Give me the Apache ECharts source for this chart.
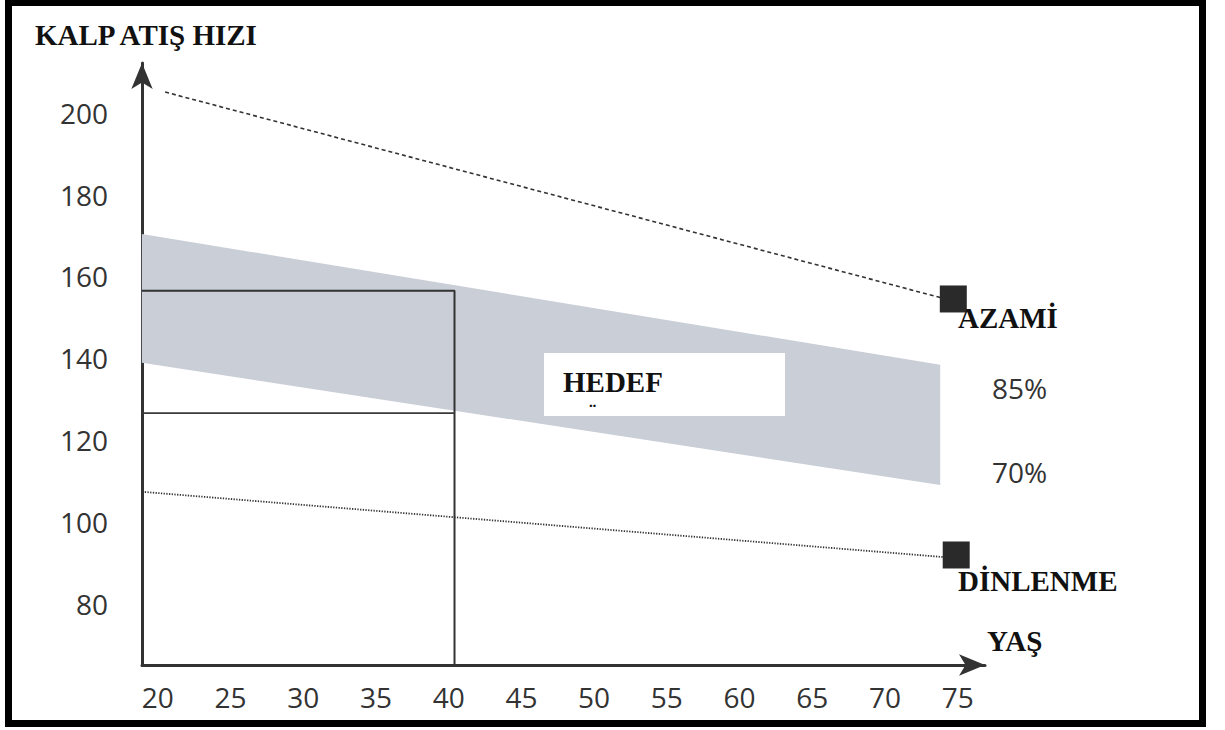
<!DOCTYPE html>
<html>
<head>
<meta charset="utf-8">
<title>Kalp Atış Hızı</title>
<script src="https://cdn.jsdelivr.net/npm/echarts@6/dist/echarts.min.js"></script>
<style>
  html, body { margin: 0; padding: 0; background: #ffffff; }
  #chart { width: 1225px; height: 730px; }
</style>
</head>
<body>
<div id="chart"></div>
<script>
// ---- Data ----
const ageTicks = [20, 25, 30, 35, 40, 45, 50, 55, 60, 65, 70, 75];
const hrTicks = [80, 100, 120, 140, 160, 180, 200];

// Maximum heart rate line (AZAMİ) [age, bpm]
const maxLine = [[20.5, 205.1], [74.7, 154.0]];
// Resting heart rate line (DİNLENME) [age, bpm]
const restLine = [[19.1, 107.3], [74.0, 91.4]];
// Target zone band: 85% upper edge and 70% lower edge
const bandTop = [[18.9, 170.4], [73.8, 138.4]];
const bandBottom = [[18.9, 138.9], [73.8, 109.0]];
// End markers
const markerMax = [74.7, 154.5];
const markerRest = [74.9, 91.9];
// Example at age 40
const exampleAge = 40.4;
const exampleHigh = 156.5;
const exampleLow = 126.6;

const labelsRight = { max: 'AZAMİ', p85: '85%', p70: '70%', rest: 'DİNLENME' };
const titleY = 'KALP ATIŞ HIZI';
const titleX = 'YAŞ';
const zoneText = 'HEDEF';

// ---- Chart ----
const SERIF = "'Liberation Serif', 'DejaVu Serif', serif";
const SANS = "'Open Sans', 'Noto Sans', sans-serif";
const X_MIN = 18.91, X_MAX = 76.88, Y_MIN = 65, Y_MAX = 212.2;

const bandPolygon = bandTop.concat(bandBottom.slice().reverse());

const chart = echarts.init(document.getElementById('chart'), null, { renderer: 'svg' });

const option = {
  animation: false,
  backgroundColor: '#ffffff',
  grid: { left: 142, right: 240, top: 63, bottom: 65 },
  xAxis: {
    type: 'value', min: X_MIN, max: X_MAX,
    axisLine: { show: true, onZero: false, symbol: ['none', 'arrow'], symbolSize: [16, 26],
      lineStyle: { color: '#333333', width: 3 } },
    axisTick: { show: false },
    splitLine: { show: false },
    axisLabel: {
      customValues: ageTicks,
      formatter: v => String(v),
      fontFamily: SANS, fontSize: 28, color: '#333333',
      margin: 32, verticalAlign: 'middle'
    }
  },
  yAxis: {
    type: 'value', min: Y_MIN, max: Y_MAX,
    axisLine: { show: true, onZero: false, symbol: ['none', 'arrow'], symbolSize: [16, 26],
      lineStyle: { color: '#333333', width: 3 } },
    axisTick: { show: false },
    splitLine: { show: false },
    axisLabel: {
      customValues: hrTicks,
      formatter: v => String(v),
      fontFamily: SANS, fontSize: 28, color: '#333333',
      margin: 34
    }
  },
  series: [
    {
      type: 'custom', name: 'band', z: 1, silent: true,
      data: bandPolygon,
      renderItem: function (params, api) {
        if (params.dataIndex !== 0) return null;
        const pts = bandPolygon.map(p => api.coord(p));
        return { type: 'polygon', shape: { points: pts }, style: { fill: '#c9ced7' } };
      }
    },
    {
      type: 'line', name: 'example', z: 3, symbol: 'none', silent: true,
      data: [[X_MIN, exampleHigh], [exampleAge, exampleHigh], [exampleAge, Y_MIN]],
      lineStyle: { color: '#333333', width: 2 }
    },
    {
      type: 'line', name: 'exampleLow', z: 3, symbol: 'none', silent: true,
      data: [[X_MIN, exampleLow], [exampleAge, exampleLow]],
      lineStyle: { color: '#3a3a3a', width: 1.6 }
    },
    {
      type: 'line', name: 'max', z: 4, symbol: 'none', silent: true,
      data: maxLine,
      lineStyle: { color: '#333333', width: 1.6, type: [4, 3] }
    },
    {
      type: 'line', name: 'rest', z: 4, symbol: 'none', silent: true,
      data: restLine,
      lineStyle: { color: '#333333', width: 1.8, type: [1.3, 1.4] }
    },
    {
      type: 'scatter', name: 'markers', z: 5, silent: true,
      symbol: 'rect', symbolSize: 27,
      itemStyle: { color: '#2b2a2b', opacity: 1 },
      data: [markerMax, markerRest]
    }
  ],
  graphic: [
    { type: 'rect', z: 100, silent: true,
      shape: { x: 8.5, y: 2.5, width: 1194, height: 721 },
      style: { fill: 'none', stroke: '#000000', lineWidth: 7 } },
    { type: 'rect', z: 50, silent: true,
      shape: { x: 544, y: 353, width: 241, height: 63 },
      style: { fill: '#ffffff' } },
    { type: 'text', z: 51, x: 563, y: 382, silent: true,
      style: { text: zoneText, font: 'bold 29px ' + SERIF, fill: '#111111', align: 'left', verticalAlign: 'middle' } },
    { type: 'text', z: 51, x: 589, y: 411, silent: true,
      style: { text: '¨', font: 'bold 22px ' + SERIF, fill: '#111111', align: 'left', verticalAlign: 'middle' } },
    { type: 'text', z: 51, x: 35, y: 35, silent: true,
      style: { text: titleY, font: 'bold 29px ' + SERIF, fill: '#111111', align: 'left', verticalAlign: 'middle' } },
    { type: 'text', z: 51, x: 987, y: 641, silent: true,
      style: { text: titleX, font: 'bold 29px ' + SERIF, fill: '#111111', align: 'left', verticalAlign: 'middle' } },
    { type: 'text', z: 51, x: 958, y: 318, silent: true,
      style: { text: labelsRight.max, font: 'bold 29px ' + SERIF, fill: '#111111', align: 'left', verticalAlign: 'middle' } },
    { type: 'text', z: 51, x: 958, y: 581, silent: true,
      style: { text: labelsRight.rest, font: 'bold 29px ' + SERIF, fill: '#111111', align: 'left', verticalAlign: 'middle' } },
    { type: 'text', z: 51, x: 992, y: 388, silent: true,
      style: { text: labelsRight.p85, font: '28px ' + SANS, fill: '#333333', align: 'left', verticalAlign: 'middle' } },
    { type: 'text', z: 51, x: 992, y: 472, silent: true,
      style: { text: labelsRight.p70, font: '28px ' + SANS, fill: '#333333', align: 'left', verticalAlign: 'middle' } }
  ]
};

chart.setOption(option);
</script>
</body>
</html>
